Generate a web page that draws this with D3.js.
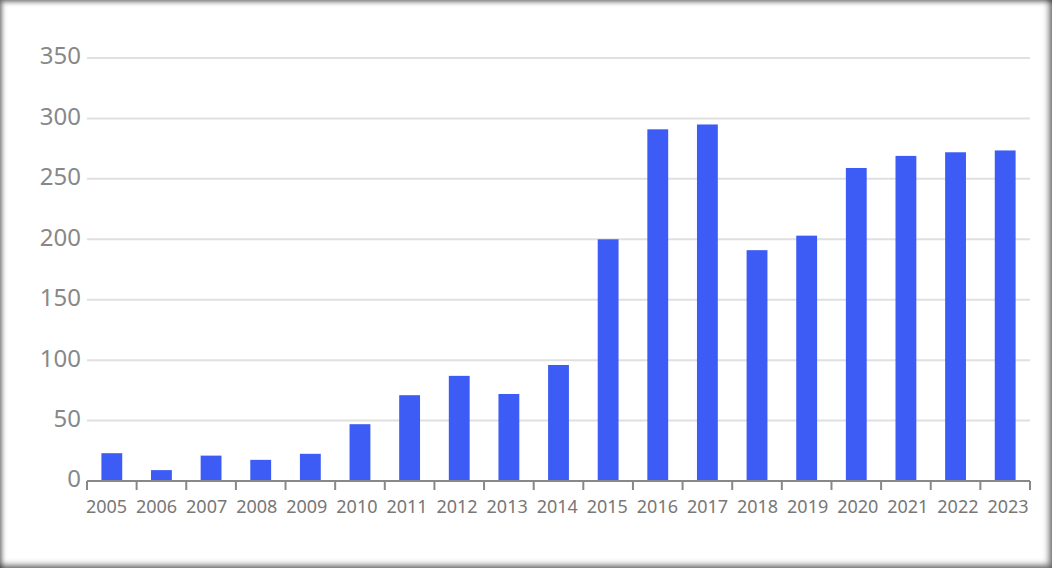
<!DOCTYPE html>
<html>
<head>
<meta charset="utf-8">
<script src="https://cdn.jsdelivr.net/npm/d3@7"></script>
<style>
  html, body { margin: 0; padding: 0; background: #fff; }
  #wrap { position: relative; width: 1052px; height: 568px; overflow: hidden; }
  #frame { position: absolute; left: 0; top: 0; width: 1052px; height: 568px; pointer-events: none;
           box-shadow: inset 2px 2px 5px rgba(0,0,0,0.5), inset -3px -3px 6px rgba(0,0,0,0.55); }
  svg { display: block; font-family: "Noto Sans", "Open Sans", sans-serif; }
</style>
</head>
<body>
<div id="wrap"><svg id="chart" width="1052" height="568"></svg><div id="frame"></div></div>
<script>
const years = ["2005","2006","2007","2008","2009","2010","2011","2012","2013","2014",
               "2015","2016","2017","2018","2019","2020","2021","2022","2023"];
const values = [23, 9, 21, 17.5, 22.5, 47, 71, 87, 72, 96,
                200, 291, 295, 191, 203, 259, 269, 272, 273.5];
const yTicks = [0, 50, 100, 150, 200, 250, 300, 350];

const margin = { left: 87, right: 22, top: 58, bottom: 87 };
const W = 1052, H = 568;
const svg = d3.select("#chart");

const x = d3.scaleBand().domain(years).range([margin.left, W - margin.right]).paddingInner(0.58).paddingOuter(0.29);
const xLab = d3.scalePoint().domain(years).range([106.5, 1008]);
const y = d3.scaleLinear().domain([0, 350]).range([H - margin.bottom, margin.top]);

// gridlines
svg.append("g").selectAll("line").data(yTicks.filter(d => d > 0)).join("line")
  .attr("x1", margin.left).attr("x2", W - margin.right)
  .attr("y1", d => y(d)).attr("y2", d => y(d))
  .attr("stroke", "#e0e0e0").attr("stroke-width", 2);

// y labels
svg.append("g").selectAll("text").data(yTicks).join("text")
  .attr("x", 81).attr("y", d => y(d) - 2).attr("dy", "0.35em")
  .attr("text-anchor", "end").attr("font-size", 24).attr("fill", "#888")
  .text(d => d);

// bars
svg.append("g").selectAll("rect").data(values).join("rect")
  .attr("x", (d, i) => x(years[i])).attr("width", x.bandwidth())
  .attr("y", d => y(d)).attr("height", d => y(0) - y(d))
  .attr("fill", "#3d5cf5");

// x axis
const bounds = d3.range(years.length + 1).map(i => margin.left + i * (W - margin.left - margin.right) / years.length);
const ax = svg.append("g");
ax.append("line").attr("x1", margin.left).attr("x2", W - margin.right)
  .attr("y1", y(0)).attr("y2", y(0)).attr("stroke", "#888").attr("stroke-width", 2);
ax.selectAll(".tk").data(bounds).join("line").attr("class", "tk")
  .attr("x1", d => d).attr("x2", d => d).attr("y1", y(0)).attr("y2", y(0) + 9)
  .attr("stroke", "#888").attr("stroke-width", 2);
ax.selectAll("text").data(years).join("text")
  .attr("x", d => xLab(d)).attr("y", y(0) + 26)
  .attr("dy", "0.35em").attr("text-anchor", "middle")
  .attr("font-size", 18).attr("fill", "#777").text(d => d);
</script>
</body>
</html>
